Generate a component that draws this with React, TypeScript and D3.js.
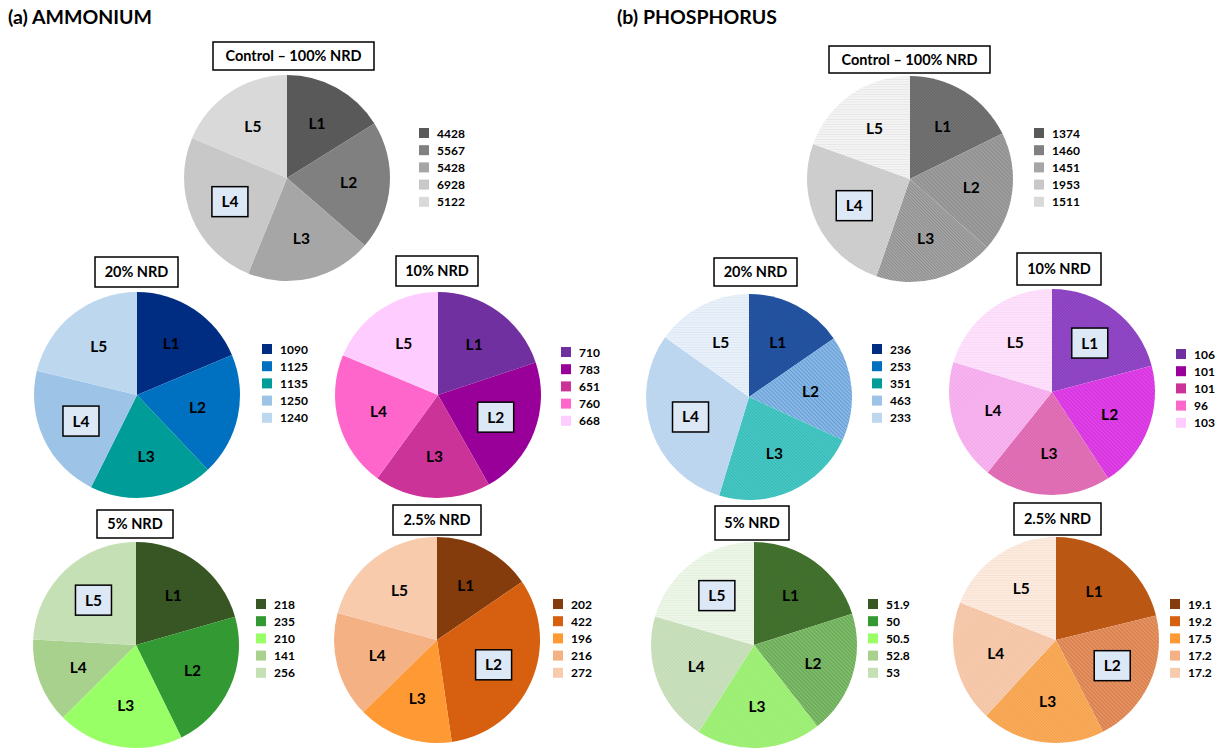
import React from "react";
import * as d3 from "d3";

const LEVELS = ["L1", "L2", "L3", "L4", "L5"];
const TREATMENTS = ["Control – 100% NRD", "20% NRD", "10% NRD", "5% NRD", "2.5% NRD"];

// Ammonium values (legend numbers)
const ammControl = [4428, 5567, 5428, 6928, 5122];
const amm20 = [1090, 1125, 1135, 1250, 1240];
const amm10 = [710, 783, 651, 760, 668];
const amm5 = [218, 235, 210, 141, 256];
const amm25 = [202, 422, 196, 216, 272];

// Phosphorus values (legend numbers)
const phoControl = [1374, 1460, 1451, 1953, 1511];
const pho20 = [236, 253, 351, 463, 233];
const pho10 = [106, 101, 101, 96, 103];
const pho5 = [51.9, 50, 50.5, 52.8, 53];
const pho25 = [19.1, 19.2, 17.5, 17.2, 17.2];

// Solid palettes (legend + ammonium slices)
const grayPal = ["#595959", "#808080", "#a6a6a6", "#c8c8c8", "#d9d9d9"];
const bluePal = ["#002c82", "#0070c0", "#009c98", "#9dc3e6", "#bdd7ee"];
const purplePal = ["#7030a0", "#990099", "#cc3399", "#ff66cc", "#ffccff"];
const greenPal = ["#375623", "#339933", "#99ff66", "#a9d18e", "#c5e0b4"];
const orangePal = ["#843c0c", "#d6600f", "#ff9933", "#f4b183", "#f8cbad"];

// Hatched palettes for phosphorus slices: [base, stripe]
const grayHatch = [["#6a6a6a", "#808080"], ["#929292", "#acacac"], ["#a4a4a4", "#7a7a7a"], ["#cacaca", "#dedede"], ["#f4f4f4", "#d6d6d6"]];
const blueHatch = [["#1f4e9c", "#3560aa"], ["#8ab8e4", "#4d8cd0"], ["#48c8c4", "#28aca8"], ["#b8d3ee", "#d2e3f4"], ["#eaf1f9", "#c8dbef"]];
const purpleHatch = [["#8a40c0", "#9c58cc"], ["#e040e8", "#ca2ad0"], ["#e272b8", "#d45aa6"], ["#f4aaec", "#fbcdf5"], ["#fde2fb", "#f7c7f3"]];
const greenHatch = [["#3e6c2a", "#4c7e38"], ["#6cae57", "#9ccb8c"], ["#a2f27a", "#8ce264"], ["#c4dcb6", "#d9e9cf"], ["#eef6ea", "#d4e7ca"]];
const orangeHatch = [["#b85410", "#c66624"], ["#e49262", "#cf6c38"], ["#f8ac5c", "#f29438"], ["#f4c4a4", "#f8d9c4"], ["#fcebe0", "#f5d2b9"]];
const hatchKinds = [
  { angle: 45, gap: 2.2, w: 0.8 },
  { angle: -45, gap: 2.8, w: 1.2 },
  { angle: -45, gap: 2.2, w: 0.9 },
  { angle: 45, gap: 2.5, w: 0.8 },
  { angle: 90, gap: 2.5, w: 0.8 },
];

type PieSpec = {
  id: string;
  title: string;
  values: number[];
  solid: string[];
  hatch?: string[][];
  cx: number;
  cy: number;
  box: [number, number, number, number];
  legendX: number;
  legendY: number;
  boxed: number;
};

const R = 103;

const pies: PieSpec[] = [
  { id: "a0", title: TREATMENTS[0], values: ammControl, solid: grayPal, cx: 287, cy: 178, box: [213, 42, 161, 28], legendX: 419, legendY: 133, boxed: 3 },
  { id: "a1", title: TREATMENTS[1], values: amm20, solid: bluePal, cx: 137, cy: 395, box: [95, 257, 83, 30], legendX: 262, legendY: 349, boxed: 3 },
  { id: "a2", title: TREATMENTS[2], values: amm10, solid: purplePal, cx: 438, cy: 395, box: [396, 256, 82, 30], legendX: 561, legendY: 352, boxed: 1 },
  { id: "a3", title: TREATMENTS[3], values: amm5, solid: greenPal, cx: 136, cy: 645, box: [97, 510, 76, 28], legendX: 256, legendY: 604, boxed: 4 },
  { id: "a4", title: TREATMENTS[4], values: amm25, solid: orangePal, cx: 437, cy: 640, box: [393, 505, 88, 30], legendX: 553, legendY: 604, boxed: 1 },
  { id: "b0", title: TREATMENTS[0], values: phoControl, solid: grayPal, hatch: grayHatch, cx: 910, cy: 179, box: [829, 46, 161, 27], legendX: 1034, legendY: 133, boxed: 3 },
  { id: "b1", title: TREATMENTS[1], values: pho20, solid: bluePal, hatch: blueHatch, cx: 749, cy: 397, box: [714, 258, 83, 28], legendX: 872, legendY: 349, boxed: 3 },
  { id: "b2", title: TREATMENTS[2], values: pho10, solid: purplePal, hatch: purpleHatch, cx: 1052, cy: 392, box: [1017, 253, 84, 32], legendX: 1176, legendY: 354, boxed: 0 },
  { id: "b3", title: TREATMENTS[3], values: pho5, solid: greenPal, hatch: greenHatch, cx: 754, cy: 645, box: [715, 506, 74, 34], legendX: 868, legendY: 604, boxed: 4 },
  { id: "b4", title: TREATMENTS[4], values: pho25, solid: orangePal, hatch: orangeHatch, cx: 1056, cy: 640, box: [1014, 503, 87, 32], legendX: 1170, legendY: 604, boxed: 1 },
];

const FONT = "Lato, 'Open Sans', sans-serif";

function Pie({ p }: { p: PieSpec }) {
  const pieGen = d3.pie<number>().sort(null).value((d) => d);
  const arcs = pieGen(p.values);
  const arc = d3.arc<d3.PieArcDatum<number>>().innerRadius(0).outerRadius(R);
  const labelArc = d3.arc<d3.PieArcDatum<number>>().innerRadius(R * 0.6).outerRadius(R * 0.6);
  const rowStep = 17.2;
  return (
    <g>
      {p.hatch && (
        <defs>
          {p.hatch.map((h, i) => {
            const k = hatchKinds[i];
            return (
              <pattern
                key={i}
                id={`pat-${p.id}-${i}`}
                patternUnits="userSpaceOnUse"
                width={k.gap}
                height={k.gap}
                patternTransform={`rotate(${k.angle})`}
              >
                <rect width={k.gap} height={k.gap} fill={h[0]} />
                <line x1={0} y1={0} x2={0} y2={k.gap} stroke={h[1]} strokeWidth={k.w} />
              </pattern>
            );
          })}
        </defs>
      )}
      <rect x={p.box[0]} y={p.box[1]} width={p.box[2]} height={p.box[3]} fill="#fff" stroke="#000" strokeWidth={1.5} />
      <text
        x={p.box[0] + p.box[2] / 2}
        y={p.box[1] + p.box[3] / 2 + 5}
        textAnchor="middle"
        fontFamily={FONT}
        fontWeight={700}
        fontSize={14.5}
        fill="#000"
      >
        {p.title}
      </text>
      <g transform={`translate(${p.cx},${p.cy})`}>
        {arcs.map((a, i) => (
          <path key={i} d={arc(a) || ""} fill={p.hatch ? `url(#pat-${p.id}-${i})` : p.solid[i]} stroke="none" />
        ))}
        {arcs.map((a, i) => {
          const [lx, ly] = labelArc.centroid(a);
          return (
            <g key={"l" + i}>
              {i === p.boxed && (
                <rect x={lx - 18} y={ly - 15} width={36} height={30} fill="#dde8f6" stroke="#000" strokeWidth={1.5} />
              )}
              <text x={lx} y={ly + 5.5} textAnchor="middle" fontFamily={FONT} fontWeight={700} fontSize={15.5} fill="#000">
                {LEVELS[i]}
              </text>
            </g>
          );
        })}
      </g>
      {p.values.map((v, i) => (
        <g key={"lg" + i}>
          <rect x={p.legendX} y={p.legendY + i * rowStep - 5} width={10} height={10} fill={p.solid[i]} />
          <text x={p.legendX + 18} y={p.legendY + i * rowStep + 4.5} fontFamily={FONT} fontWeight={700} fontSize={12} fill="#000">
            {String(v)}
          </text>
        </g>
      ))}
    </g>
  );
}

export default function App() {
  return (
    <svg
      width={1222}
      height={748}
      viewBox="0 0 1222 748"
      style={{ position: "absolute", left: 0, top: 0, background: "#fff" }}
    >
      <rect width={1222} height={748} fill="#fff" />
      <text x={8} y={24} fontFamily={FONT} fontWeight={700} fontSize={19.5} fill="#000">
        (a) AMMONIUM
      </text>
      <text x={617} y={24} fontFamily={FONT} fontWeight={700} fontSize={19.5} fill="#000">
        (b) PHOSPHORUS
      </text>
      {pies.map((p) => (
        <Pie key={p.id} p={p} />
      ))}
    </svg>
  );
}
